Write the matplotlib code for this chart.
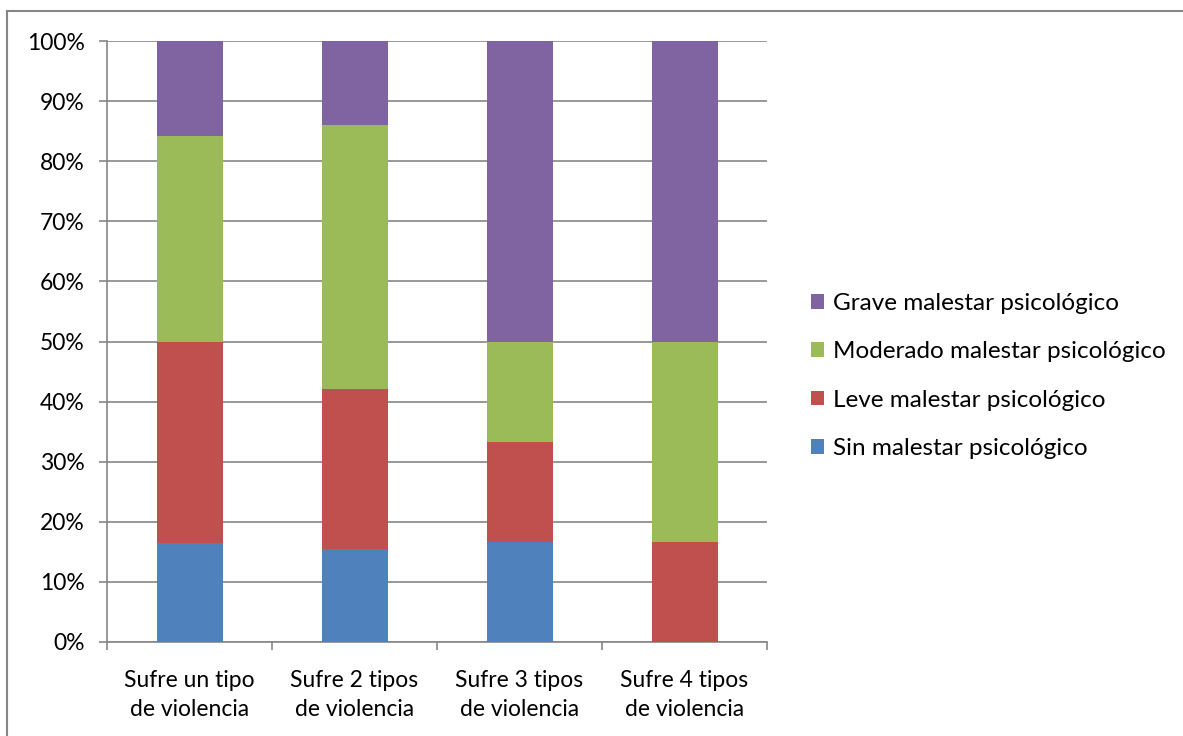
import matplotlib.pyplot as plt
import matplotlib.lines as mlines
from matplotlib.ticker import PercentFormatter
import numpy as np

plt.rcParams['font.family'] = ['Lato', 'DejaVu Sans']

# Datos (porcentajes)
categorias = ['Sufre un tipo\nde violencia', 'Sufre 2 tipos\nde violencia',
              'Sufre 3 tipos\nde violencia', 'Sufre 4 tipos\nde violencia']
sin = [16.4, 15.5, 16.7, 0.0]
leve = [33.6, 26.6, 16.6, 16.7]
moderado = [34.2, 43.9, 16.7, 33.3]
grave = [15.8, 14.0, 50.0, 50.0]

series = ['Sin malestar psicológico', 'Leve malestar psicológico',
          'Moderado malestar psicológico', 'Grave malestar psicológico']
colores = ['#4F81BD', '#C0504D', '#9BBB59', '#8064A2']

fs = 16.5

fig = plt.figure(figsize=(11.83, 7.36), dpi=100)
ax = fig.add_axes([107/1183, 94/736, 660/1183, 601/736])

x = np.arange(len(categorias))
base = np.zeros(len(categorias))
for nombre, vals, c in zip(series, [sin, leve, moderado, grave], colores):
    ax.bar(x, vals, 0.4, bottom=base, color=c, label=nombre, zorder=3)
    base += np.array(vals)

ax.set_xlim(-0.5, len(categorias) - 0.5)
ax.set_ylim(0, 100)
ax.set_yticks(np.arange(0, 101, 10))
ax.yaxis.set_major_formatter(PercentFormatter(decimals=0))
ax.grid(axis='y', color='#868686', linewidth=1.2, zorder=0)

ax.set_xticks(x)
ax.set_xticklabels(categorias, fontsize=fs, linespacing=1.5)
ax.set_xticks(np.arange(-0.5, len(categorias)), minor=True)
ax.tick_params(axis='x', which='major', length=0, pad=20)
ax.tick_params(axis='x', which='minor', length=6, color='#868686', width=1.2)
ax.tick_params(axis='y', length=6, color='#868686', width=1.2, labelsize=fs, pad=10)

for s in ['top', 'right']:
    ax.spines[s].set_visible(False)
for s in ['left', 'bottom']:
    ax.spines[s].set_color('#868686')
    ax.spines[s].set_linewidth(1.2)

h, l = ax.get_legend_handles_labels()
ax.legend(h[::-1], l[::-1], loc='center left', bbox_to_anchor=(789/1183, 1 - 376/736),
          bbox_transform=fig.transFigure, frameon=False, fontsize=17.5,
          handlelength=0.55, handleheight=0.55, handletextpad=0.35, labelspacing=1.12)

# Marco exterior
fig.add_artist(mlines.Line2D([7/1183, 7/1183], [0, 1 - 11/736], color='#868686', lw=1.5))
fig.add_artist(mlines.Line2D([7/1183, 1], [1 - 11/736, 1 - 11/736], color='#868686', lw=1.5))

fig.savefig('out.png', dpi=100)
